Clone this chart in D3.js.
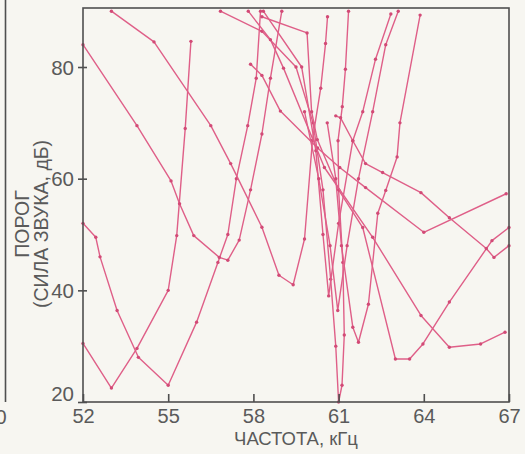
<!DOCTYPE html>
<html><head><meta charset="utf-8">
<script src="https://cdn.jsdelivr.net/npm/d3@7"></script>
<style>
html,body{margin:0;padding:0;background:#f7f6f1;}
svg{display:block;}
</style></head>
<body>
<svg id="chart" width="525" height="454"></svg>
<script>
// Frequency (kHz) / threshold (dB) tuning curves
const xTicks = [52, 55, 58, 61, 64, 67];
const yTicks = [20, 40, 60, 80];
const xLabel = "ЧАСТОТА, кГц";
const yLabel1 = "ПОРОГ";
const yLabel2 = "(СИЛА ЗВУКА, дБ)";

const curve1 = [[52,30.5],[53,22.5],[53.9,29.6],[55,40],[55.3,49.8],[55.6,69],[55.8,84.6]];
const curve2 = [[52,52],[52.45,49.5],[52.6,46],[53.2,36.4],[53.95,28],[55,23],[56,34.3],[56.75,45],[57.1,50],[57.4,60],[57.8,69.5],[58.1,78],[58.25,90]];
const curve3 = [[52,84],[53.9,69.5],[55.1,59.6],[55.4,55.5],[55.9,49.8],[56.8,45.9],[57.1,45.4],[57.5,49],[57.9,58],[58.3,68],[58.6,78],[59.0,90]];
const curve4 = [[53,90],[54.5,84.5],[56.5,69.5],[57.2,62.7],[58.3,51.3],[58.9,42.7],[59.4,41],[59.8,49.2],[60.08,66.9],[60.37,76.2],[60.54,84.2],[60.61,89]];
const curve5 = [[56.84,90],[58.3,86.4],[59.5,80],[60.1,70],[60.45,58],[60.72,42],[60.9,30],[61.0,20],[61.12,23],[61.2,32],[61.15,45],[61.0,58],[60.98,66.8],[61.13,72.9],[61.24,79.6],[61.35,90]];
const curve6 = [[58.3,89],[59.89,86.1],[60.05,72],[60.25,67],[61.0,58],[61.85,51.25],[63.0,27.7],[63.5,27.7],[63.97,30.4],[64.9,37.9],[66.4,48.9],[67.0,51.25]];
const curve7 = [[58.35,90],[59.7,80],[60.2,65],[60.45,50],[60.65,39],[61.0,52],[61.5,66.8],[61.85,72],[62.3,81.4],[62.84,89.5]];
const curve8 = [[60.9,71.25],[61.07,70.9],[61.5,66.8],[61.95,62.7],[62.55,61.1],[63.9,57.5],[64.9,53],[66.2,47.5],[66.47,45.9],[67,48]];
const curve9 = [[57.9,80.5],[58.3,78.5],[58.95,72.1],[60.26,65.5],[61.04,62],[61.95,58.4],[64.0,50.4],[66.9,57.3]];
const curve10 = [[57.82,90],[58.6,84.9],[59.06,79.8],[60.5,62],[62.2,49.5],[63.9,35.5],[64.9,29.8],[66.0,30.4],[66.86,32.5]];
const curve11 = [[60.6,70],[60.9,60],[61.1,48],[61.5,33.4],[61.7,30.7],[62.05,37.5],[62.38,53.8],[62.66,57.9],[63.06,63.9],[63.16,70],[63.87,89.3]];
const curve12 = [[59.8,72],[60.3,60],[60.7,48],[60.97,36.4],[61.3,48],[61.7,60],[62.2,72],[62.66,84],[63.1,90]];

const curves = [curve1,curve2,curve3,curve4,curve5,curve6,curve7,curve8,curve9,curve10,curve11,curve12];

const svg = d3.select("#chart");
const mLeft = 83, mRight = 509, mTop = 8, mBottom = 402;
const x = d3.scaleLinear().domain([52, 67]).range([mLeft, mRight]);
const y = d3.scaleLinear().domain([20, 90.57]).range([mBottom, mTop]);

const axisColor = "#4f4f4f";
const textColor = "#5a5a5a";
const lineColor = "#df5f88";
const font = "'Liberation Sans', Arial, sans-serif";

// partial neighbouring panel on the far left
svg.append("line").attr("x1",5.5).attr("x2",5.5).attr("y1",0).attr("y2",mBottom)
  .attr("stroke",axisColor).attr("stroke-width",1.6);
svg.append("text").attr("x",1).attr("y",424).attr("text-anchor","middle")
  .attr("font-family",font).attr("font-size",20).attr("fill",textColor).text("0");

// curves
const line = d3.line().x(d => x(d[0])).y(d => y(d[1]));
const g = svg.append("g");
curves.forEach(c => {
  g.append("path").datum(c).attr("d", line).attr("fill","none")
    .attr("stroke",lineColor).attr("stroke-width",1.4).attr("stroke-linejoin","round");
  g.selectAll(null).data(c).enter().append("circle")
    .attr("cx", d => x(d[0])).attr("cy", d => y(d[1])).attr("r",1.7)
    .attr("fill","#d24a76");
});

// frame
svg.append("rect").attr("x",mLeft).attr("y",mTop).attr("width",mRight-mLeft).attr("height",mBottom-mTop)
  .attr("fill","none").attr("stroke",axisColor).attr("stroke-width",1.6);

// x axis
const xAxis = d3.axisBottom(x).tickValues(xTicks).tickSize(-8).tickPadding(7).tickFormat(d3.format("d"));
const gx = svg.append("g").attr("transform",`translate(0,${mBottom})`).call(xAxis);
gx.select(".domain").remove();
gx.selectAll(".tick line").attr("stroke",axisColor).attr("stroke-width",1.6);
gx.selectAll(".tick text").attr("font-family",font).attr("font-size",20).attr("fill",textColor);

// y axis
const yAxis = d3.axisLeft(y).tickValues(yTicks).tickSize(5).tickPadding(4).tickFormat(d3.format("d"));
const gy = svg.append("g").attr("transform",`translate(${mLeft},0)`).call(yAxis);
gy.select(".domain").remove();
gy.selectAll(".tick line").attr("stroke",axisColor).attr("stroke-width",1.6).attr("x2",-5).attr("x1",4);
gy.selectAll(".tick text").attr("font-family",font).attr("font-size",20.5).attr("fill",textColor)
  .attr("dy", d => d === 20 ? "-0.05em" : "0.35em");

// axis titles
svg.append("text").attr("x",296).attr("y",445).attr("text-anchor","middle")
  .attr("font-family",font).attr("font-size",18.5).attr("fill",textColor).text(xLabel);
svg.append("text").attr("transform","translate(29,224) rotate(-90)").attr("text-anchor","middle")
  .attr("font-family",font).attr("font-size",19.5).attr("fill",textColor).text(yLabel1);
svg.append("text").attr("transform","translate(48,224) rotate(-90)").attr("text-anchor","middle")
  .attr("font-family",font).attr("font-size",19.5).attr("fill",textColor).text(yLabel2);
</script>
</body></html>
